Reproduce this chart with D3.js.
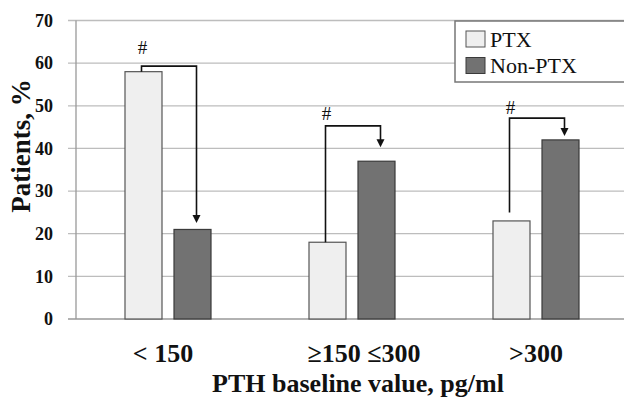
<!DOCTYPE html>
<html>
<head>
<meta charset="utf-8">
<script src="https://cdn.jsdelivr.net/npm/d3@7"></script>
<style>
  body { margin: 0; background: #fff; }
  svg { display: block; font-family: "Liberation Serif", "Times New Roman", serif; }
  .tick-label { font-size: 18px; font-weight: bold; fill: #111; }
  .cat-label { font-size: 26px; font-weight: bold; fill: #111; }
  .axis-title { font-size: 26px; font-weight: bold; fill: #111; }
  .y-title { font-size: 27px; font-weight: bold; fill: #111; }
  .legend { font-size: 22px; fill: #111; }
  .hash { font-size: 19px; fill: #111; }
</style>
</head>
<body>
<div id="chart"></div>
<script>
const width = 624;
const height = 402;

// data
const categories = ["< 150", "\u2265150 \u2264300", ">300"];
const series = ["PTX", "Non-PTX"];
const ptxValues = [58, 18, 23];
const nonPtxValues = [21, 37, 42];
const yTicks = [0, 10, 20, 30, 40, 50, 60, 70];

// significance arrows (in % units): start, bend height, arrow tip, "#" level
const arrowStart = [58, 18, 25];
const arrowTop = [59.3, 45.3, 47.1];
const arrowEnd = [22.5, 40.3, 42.9];
const hashLevel = [63.6, 48.3, 49.7];

const colors = { "PTX": "#efefef", "Non-PTX": "#727272" };
const strokes = { "PTX": "#555", "Non-PTX": "#3a3a3a" };

// small horizontal nudges of the category labels, as placed in the original
const labelShift = [-5, 12, 0];

const margin = { top: 20.5, right: -4, bottom: 83, left: 76 };

const svg = d3.select("#chart").append("svg")
   .attr("width", width)
   .attr("height", height);

const x0 = d3.scaleBand()
   .domain(categories)
   .range([margin.left, width - margin.right])
   .padding(0);

const x1 = d3.scaleBand()
   .domain(series)
   .range([0, x0.bandwidth()])
   .paddingInner(0.245)
   .paddingOuter(1);

const y = d3.scaleLinear()
   .domain([0, 70])
   .range([height - margin.bottom, margin.top]);

// gridlines + ticks
svg.append("g").selectAll("line")
   .data(yTicks)
   .enter().append("line")
   .attr("x1", margin.left - 8)
   .attr("x2", width)
   .attr("y1", d => y(d))
   .attr("y2", d => y(d))
   .style("stroke", d => d == 0 ? "#999" : "#bdbdbd")
   .style("stroke-width", 1.3);

svg.append("line")
   .attr("x1", margin.left).attr("x2", margin.left)
   .attr("y1", y(70)).attr("y2", y(0))
   .style("stroke", "#999")
   .style("stroke-width", 1.3);

svg.append("g").selectAll("text")
   .data(yTicks)
   .enter().append("text")
   .attr("class", "tick-label")
   .attr("x", 53)
   .attr("y", d => y(d))
   .attr("dy", "0.35em")
   .style("text-anchor", "end")
   .text(d => d);

// bars
const rows = categories.map((c, i) => ({
   cat: c,
   vals: [{ s: "PTX", v: ptxValues[i] }, { s: "Non-PTX", v: nonPtxValues[i] }]
}));

const groups = svg.append("g").selectAll("g")
   .data(rows)
   .enter().append("g")
   .attr("transform", d => `translate(${x0(d.cat)},0)`);

groups.selectAll("rect")
   .data(d => d.vals)
   .enter().append("rect")
   .attr("x", d => x1(d.s))
   .attr("y", d => y(d.v))
   .attr("width", x1.bandwidth())
   .attr("height", d => y(0) - y(d.v))
   .style("fill", d => colors[d.s])
   .style("stroke", d => strokes[d.s])
   .style("stroke-width", 1.2);

// arrows
categories.forEach((c, i) => {
   const xs = x0(c) + x1("PTX") + x1.bandwidth() / 2 - 2;
   const xe = x0(c) + x1("Non-PTX") + x1.bandwidth() / 2 + 4;
   const tip = y(arrowEnd[i]);
   svg.append("path")
      .attr("d", `M${xs},${y(arrowStart[i])}V${y(arrowTop[i])}H${xe}V${tip - 7}`)
      .style("fill", "none")
      .style("stroke", "#111")
      .style("stroke-width", 1.6);
   svg.append("path")
      .attr("d", `M${xe - 4},${tip - 8}L${xe + 4},${tip - 8}L${xe},${tip}Z`)
      .style("fill", "#111");
   svg.append("text")
      .attr("class", "hash")
      .attr("x", xs + 1)
      .attr("y", y(hashLevel[i]))
      .attr("dy", "0.35em")
      .style("text-anchor", "middle")
      .text("#");
});

// category labels
svg.append("g").selectAll("text")
   .data(categories)
   .enter().append("text")
   .attr("class", "cat-label")
   .attr("x", (d, i) => x0(d) + x0.bandwidth() / 2 + labelShift[i])
   .attr("y", 362)
   .style("text-anchor", "middle")
   .text(d => d);

// axis titles
svg.append("text")
   .attr("class", "axis-title")
   .attr("x", 358)
   .attr("y", 392)
   .style("text-anchor", "middle")
   .text("PTH baseline value, pg/ml");

svg.append("text")
   .attr("class", "y-title")
   .attr("transform", "translate(30,146) rotate(-90)")
   .style("text-anchor", "middle")
   .text("Patients, %");

// legend
const legend = svg.append("g");
legend.append("rect")
   .attr("x", 455).attr("y", 21)
   .attr("width", 175).attr("height", 61)
   .style("fill", "#fff")
   .style("stroke", "#777")
   .style("stroke-width", 1.5);

series.forEach((s, i) => {
   legend.append("rect")
      .attr("x", 466).attr("y", 31 + i * 26.5)
      .attr("width", 19).attr("height", 16)
      .style("fill", colors[s])
      .style("stroke", strokes[s])
      .style("stroke-width", 1);
   legend.append("text")
      .attr("class", "legend")
      .attr("x", 490)
      .attr("y", 46.5 + i * 26.5)
      .text(s);
});
</script>
</body>
</html>
